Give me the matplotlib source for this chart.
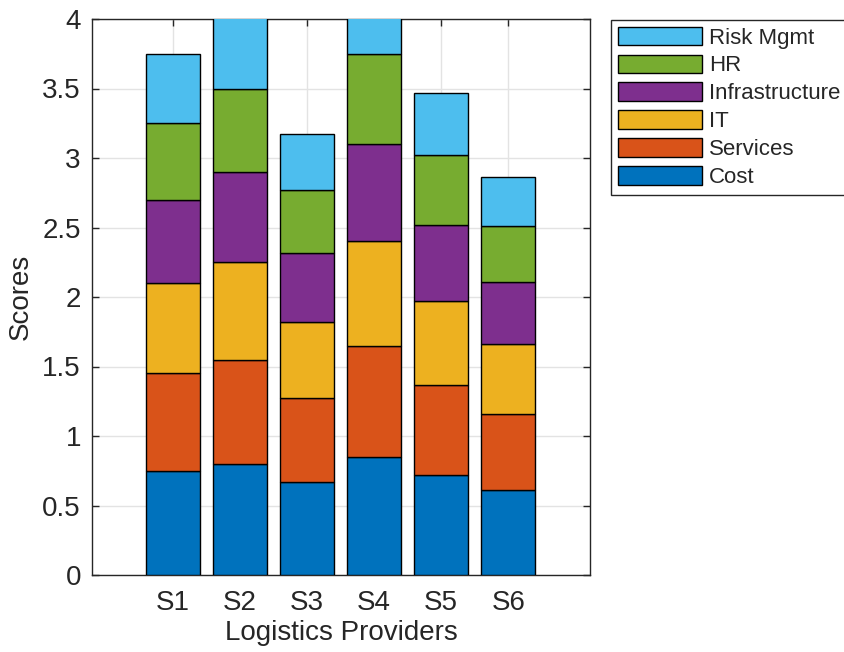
import matplotlib
matplotlib.use("Agg")
import matplotlib.pyplot as plt
import numpy as np

plt.rcParams['font.family'] = ['Liberation Sans', 'DejaVu Sans']

providers = ["S1", "S2", "S3", "S4", "S5", "S6"]
series_names = ["Cost", "Services", "IT", "Infrastructure", "HR", "Risk Mgmt"]
cost = [0.75, 0.80, 0.67, 0.85, 0.72, 0.61]
services = [0.70, 0.75, 0.60, 0.80, 0.65, 0.55]
it = [0.65, 0.70, 0.55, 0.75, 0.60, 0.50]
infrastructure = [0.60, 0.65, 0.50, 0.70, 0.55, 0.45]
hr = [0.55, 0.60, 0.45, 0.65, 0.50, 0.40]
risk = [0.50, 0.55, 0.40, 0.60, 0.45, 0.35]
series = [cost, services, it, infrastructure, hr, risk]
colors = ["#0072BD", "#D95319", "#EDB120", "#7E2F8E", "#77AC30", "#4DBEEE"]

dark = "#262626"
fig = plt.figure(figsize=(8.44, 6.52), dpi=100)
ax = fig.add_axes([92/844, 1-575/652, (590-92)/844, (575-19)/652])

x = np.arange(1, len(providers)+1)
bottom = np.zeros(len(providers))
handles = []
for name, vals, c in zip(series_names, series, colors):
    h = ax.bar(x, vals, width=0.8, bottom=bottom, color=c, edgecolor="black",
               linewidth=1.0, label=name, zorder=3)
    handles.append(h)
    bottom += np.array(vals)

ax.set_xlim(-0.21, 7.22)
ax.set_ylim(0, 4)
ax.set_xticks(x)
ax.set_xticklabels(providers)
ax.set_yticks(np.arange(0, 4.01, 0.5))
ax.set_yticklabels(["0", "0.5", "1", "1.5", "2", "2.5", "3", "3.5", "4"])
ax.grid(True, color="#e3e3e3", linewidth=1.0, zorder=0)
ax.set_axisbelow(True)
ax.tick_params(direction="in", top=True, right=True, length=5, width=1,
               colors=dark, labelsize=20)
ax.tick_params(axis="y", pad=8)
ax.tick_params(axis="x", pad=11)
for s in ax.spines.values():
    s.set_color(dark)
    s.set_linewidth(1.0)
ax.set_xlabel("Logistics Providers", fontsize=20, color=dark, labelpad=3)
ax.set_ylabel("Scores", fontsize=20, color=dark, labelpad=6)

leg = fig.legend(handles[::-1], series_names[::-1], loc="upper left",
                 bbox_to_anchor=(611/844, 1-20/652), fontsize=16,
                 frameon=True, fancybox=False, framealpha=1,
                 edgecolor=dark, handlelength=3.8, handleheight=0.9,
                 handletextpad=0.3, labelspacing=0.27, borderpad=0.3,
                 borderaxespad=0)
leg.get_frame().set_linewidth(1.0)
for t in leg.get_texts():
    t.set_color(dark)

fig.savefig("out.png", dpi=100)
